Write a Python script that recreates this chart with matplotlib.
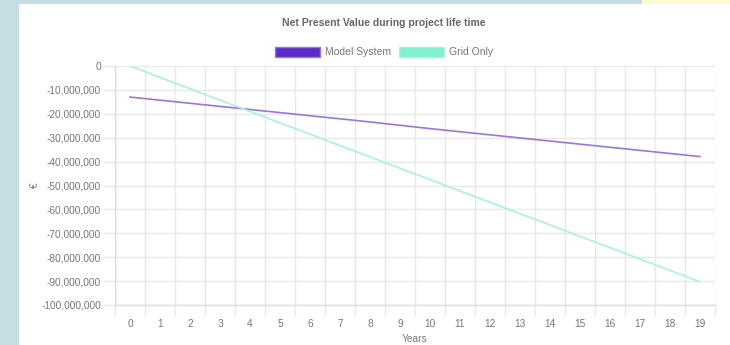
import matplotlib.pyplot as plt
from matplotlib.patches import Rectangle, Patch
from matplotlib.ticker import FuncFormatter
import numpy as np

plt.rcParams['font.family'] = ['Liberation Sans', 'DejaVu Sans']

years = list(range(20))
# NPV in millions of euro
model_system = [-13.0, -14.3, -15.6, -16.9, -18.2, -19.5, -20.8, -22.1, -23.4, -24.8,
                -26.2, -27.5, -28.8, -30.1, -31.4, -32.7, -34.0, -35.3, -36.6, -37.9]
grid_only = [0.0, -4.75, -9.5, -14.3, -19.0, -23.8, -28.5, -33.3, -38.0, -42.8,
             -47.5, -52.3, -57.0, -61.8, -66.5, -71.3, -76.0, -80.8, -85.5, -90.3]
y_ticks = list(range(0, -101, -10))

text_col = '#666666'
tick_col = '#777777'
grid_col = '#e8e8e8'

fig = plt.figure(figsize=(7.3, 3.45), dpi=100)
fig.patch.set_facecolor('#c6dde3')
# white page the chart sits on, plus the yellow strip at the top right
fig.patches.append(Rectangle((19/730, 0), 1, 341/345, transform=fig.transFigure,
                             facecolor='white', edgecolor='none', zorder=-1))
fig.patches.append(Rectangle((642/730, 341/345), 1, 4/345, transform=fig.transFigure,
                             facecolor='#fdfbd0', edgecolor='none', zorder=-1))

ax = fig.add_axes([115/730, 40/345, 600/730, 239/345])
ax.set_facecolor('none')
ax.set_zorder(1)

ax.plot(years, [v * 1e6 for v in model_system], color='#9b74df', lw=1.2, zorder=3)
ax.plot(years, [v * 1e6 for v in grid_only], color='#a9f2dd', lw=1.2, zorder=3)

ax.set_xlim(-0.5, 19.5)
ax.set_ylim(-100e6, 0)

ax.set_xticks(years)
ax.set_xticks(np.arange(-0.5, 20, 1), minor=True)
ax.set_yticks([v * 1e6 for v in y_ticks])
ax.yaxis.set_major_formatter(FuncFormatter(lambda v, p: f'{int(round(v)):,}'))

ax.tick_params(axis='x', which='major', length=0, pad=10, labelsize=7.3, labelcolor=tick_col)
ax.tick_params(axis='x', which='minor', length=8, color=grid_col, width=1)
ax.tick_params(axis='y', which='major', length=8, color=grid_col, width=1,
               pad=2, labelsize=7.3, labelcolor=tick_col)

ax.grid(True, axis='x', which='minor', color=grid_col, lw=1)
ax.grid(True, axis='y', which='major', color=grid_col, lw=1)
ax.set_axisbelow(True)

for side in ['top', 'right']:
    ax.spines[side].set_visible(False)
for side in ['left', 'bottom']:
    ax.spines[side].set_color('#dddddd')
    ax.spines[side].set_linewidth(1)

ax.set_xlabel('Years', fontsize=7.3, color=tick_col, labelpad=4)
ax.set_ylabel('€', fontsize=7.3, color=tick_col)
ax.yaxis.set_label_coords(-75/600, 0.5)

fig.text(384/730, 1 - 23/345, 'Net Present Value during project life time',
         ha='center', va='center', fontsize=7.5, fontweight='bold', color=text_col)

handles = [Patch(facecolor='#5b2dc6', edgecolor='#9b74df', lw=1),
           Patch(facecolor='#7ff0d0', edgecolor='#a9f2dd', lw=1)]
fig.legend(handles, ['Model System', 'Grid Only'], loc='center',
           bbox_to_anchor=(384/730, 1 - 52/345), ncol=2, frameon=False,
           fontsize=7.5, labelcolor=tick_col, handlelength=4.3, handleheight=1.2,
           handletextpad=0.5, columnspacing=0.8)

fig.savefig('out.png', dpi=100)
